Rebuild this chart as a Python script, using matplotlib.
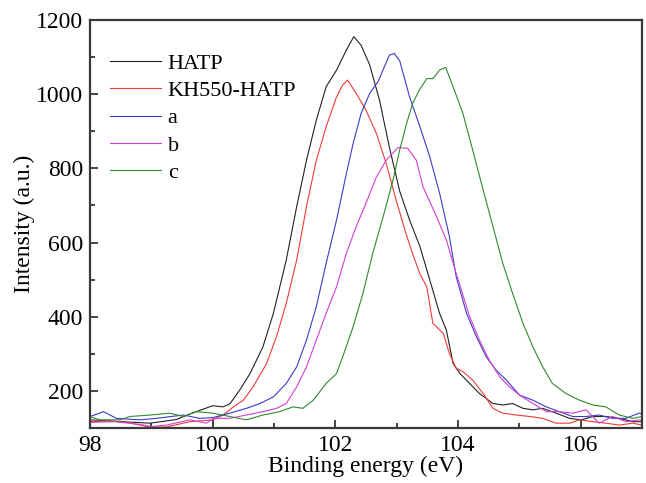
import matplotlib
matplotlib.use("Agg")
import matplotlib.pyplot as plt
from matplotlib.ticker import MultipleLocator

plt.rcParams['font.family'] = ['Liberation Serif', 'DejaVu Serif']

# binding energy (eV) / intensity (a.u.)
hatp_e = [98.0, 98.54, 98.98, 99.41, 99.68, 100.0, 100.17, 100.28, 100.44, 100.61, 100.82, 100.99,
          101.2, 101.37, 101.53, 101.69, 101.85, 102.02, 102.18, 102.3, 102.42, 102.56, 102.72,
          102.88, 103.05, 103.21, 103.38, 103.54, 103.7, 103.81, 103.92, 104.03, 104.19, 104.35,
          104.57, 104.73, 104.89, 105.06, 105.22, 105.38, 105.6, 105.82, 106.01, 106.2, 106.41,
          106.63, 106.85, 107.0]
hatp_i = [122, 117, 113, 123, 141, 160, 157, 165, 202, 247, 319, 409,
          553, 697, 822, 930, 1020, 1065, 1119, 1155, 1132, 1079, 984,
          858, 738, 661, 589, 499, 409, 364, 274, 247, 220, 193,
          166, 162, 166, 153, 149, 153, 140, 126, 122, 131, 131,
          126, 117, 117]

kh_e = [98.0, 98.3, 98.6, 99.0, 99.25, 99.63, 100.0, 100.17, 100.34, 100.5, 100.66, 100.88, 101.04,
        101.2, 101.37, 101.53, 101.69, 101.85, 102.02, 102.12, 102.2, 102.34, 102.5, 102.67, 102.83,
        102.99, 103.15, 103.26, 103.38, 103.49, 103.59, 103.76, 103.86, 103.97, 104.08, 104.24,
        104.41, 104.57, 104.73, 104.95, 105.17, 105.38, 105.6, 105.82, 105.98, 106.2, 106.41,
        106.63, 106.85, 107.0]
kh_i = [117, 119, 115, 102, 103, 117, 122, 135, 157, 175, 211, 274, 346,
        436, 553, 697, 822, 912, 993, 1025, 1038, 1002, 957, 894, 813,
        715, 625, 570, 515, 481, 382, 355, 301, 261, 252, 229,
        193, 153, 140, 135, 131, 126, 113, 113, 122, 117, 113,
        108, 113, 108]

a_e = [98.0, 98.22, 98.43, 98.81, 99.08, 99.52, 99.79, 100.0, 100.28, 100.55, 100.77, 100.99, 101.2,
       101.37, 101.53, 101.69, 101.85, 102.02, 102.18, 102.29, 102.42, 102.56, 102.7, 102.88,
       102.96, 103.05, 103.21, 103.38, 103.54, 103.7, 103.86, 103.97, 104.14, 104.3, 104.46,
       104.62, 104.79, 105.0, 105.22, 105.44, 105.65, 105.87, 106.09, 106.3, 106.52, 106.74,
       106.95, 107.0]
a_i = [131, 144, 126, 122, 126, 135, 126, 128, 140, 153, 166, 184, 220,
       265, 337, 427, 544, 661, 786, 867, 948, 1002, 1035, 1105,
       1110, 1090, 993, 912, 831, 733, 616, 508, 409, 346, 292,
       256, 229, 189, 175, 157, 144, 131, 131, 135, 126, 126,
       140, 138]

b_e = [98.0, 98.4, 98.8, 99.0, 99.25, 99.63, 99.9, 100.01, 100.28, 100.55, 100.82, 101.04, 101.2,
       101.37, 101.53, 101.69, 101.85, 102.02, 102.18, 102.34, 102.5, 102.67, 102.83, 103.02,
       103.18, 103.32, 103.43, 103.65, 103.81, 103.97, 104.19, 104.35, 104.51, 104.68, 104.84,
       105.0, 105.22, 105.44, 105.65, 105.87, 106.09, 106.3, 106.52, 106.74, 106.95, 107.0]
b_i = [115, 117, 110, 104, 108, 122, 113, 126, 126, 135, 144, 153, 166,
       211, 265, 337, 409, 481, 571, 643, 706, 777, 822, 856,
       854, 822, 750, 670, 607, 517, 400, 337, 283, 238, 211,
       189, 166, 144, 144, 140, 149, 113, 131, 117, 122, 120]

c_e = [98.0, 98.16, 98.49, 98.65, 98.98, 99.3, 99.52, 99.73, 100.0, 100.28, 100.55, 100.82, 101.09,
       101.31, 101.47, 101.64, 101.85, 102.02, 102.12, 102.29, 102.45, 102.61, 102.78, 102.94,
       103.05, 103.16, 103.26, 103.37, 103.49, 103.59, 103.7, 103.8, 103.92, 104.08, 104.24,
       104.41, 104.57, 104.73, 104.89, 105.06, 105.22, 105.38, 105.54, 105.76, 105.98, 106.2,
       106.41, 106.63, 106.85, 107.0]
c_i = [131, 122, 122, 131, 135, 140, 131, 144, 140, 131, 122, 135, 144,
       157, 153, 175, 220, 247, 292, 373, 463, 571, 670, 768,
       850, 920, 975, 1011, 1042, 1042, 1065, 1072, 1020, 948, 849,
       742, 643, 544, 463, 382, 319, 265, 220, 193, 175, 162,
       157, 135, 126, 131]

labels = ['HATP', 'KH550-HATP', 'a', 'b', 'c']
colors = ['#222222', '#ee3b3b', '#3b3bc8', '#d23fd2', '#2e8b2e']

fig = plt.figure(figsize=(6.46, 4.83), dpi=100)
ax = fig.add_axes([90/646, 55/483, 552/646, 408/483])

series = [(hatp_e, hatp_i), (kh_e, kh_i), (a_e, a_i), (b_e, b_i), (c_e, c_i)]
for (e, i), lab, col in zip(series, labels, colors):
    ax.plot(e, i, color=col, lw=0.8, label=lab)

ax.set_xlim(98, 107)
ax.set_ylim(100, 1200)
ax.xaxis.set_major_locator(MultipleLocator(2))
ax.xaxis.set_minor_locator(MultipleLocator(1))
ax.yaxis.set_minor_locator(MultipleLocator(100))
ax.set_yticks([200, 400, 600, 800, 1000, 1200])

ax.tick_params(which='both', direction='in', top=False, right=False, width=1.2, color='#222222')
ax.tick_params(which='major', length=6, labelsize=17, pad=5)
ax.tick_params(which='minor', length=3.5)
for s in ax.spines.values():
    s.set_linewidth(1.6)
    s.set_color('#3a3a3a')

ax.set_xlabel('Binding energy (eV)', fontsize=17, labelpad=0)
ax.set_ylabel('Intensity (a.u.)', fontsize=17, labelpad=1)

ax.legend(loc='upper left', bbox_to_anchor=(0.02, 0.94), frameon=False, fontsize=16,
          handlelength=2.3, handletextpad=0.3, labelspacing=0.3, borderaxespad=0.0)

fig.savefig('out.png', dpi=100)
